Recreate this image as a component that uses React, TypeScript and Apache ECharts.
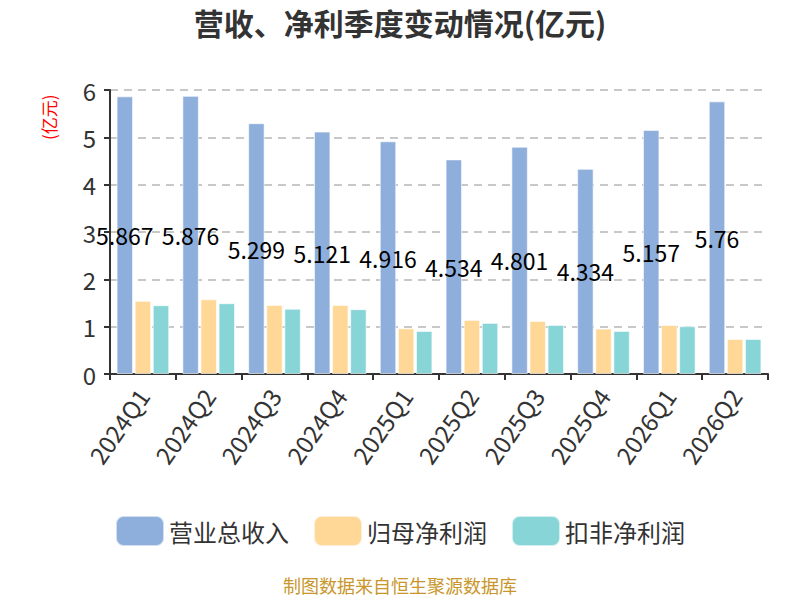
import React, { useEffect, useRef } from "react";
import * as echarts from "echarts";

const categories = ["2024Q1", "2024Q2", "2024Q3", "2024Q4", "2025Q1", "2025Q2", "2025Q3", "2025Q4", "2026Q1", "2026Q2"];
const revenue = [5.867, 5.876, 5.299, 5.121, 4.916, 4.534, 4.801, 4.334, 5.157, 5.76];
const netProfit = [1.545, 1.58, 1.46, 1.46, 0.966, 1.143, 1.12, 0.96, 1.037, 0.74];
const deductedProfit = [1.453, 1.496, 1.38, 1.37, 0.91, 1.08, 1.037, 0.91, 1.01, 0.74];
const seriesNames = ["营业总收入", "归母净利润", "扣非净利润"];
const colors = ["#8eaedb", "#ffd898", "#88d5d8"];

const FONT = "'Noto Sans CJK SC', 'Noto Sans', sans-serif";

export default function App() {
  const ref = useRef<HTMLDivElement>(null);
  useEffect(() => {
    document.body.style.margin = "0";
    const chart = echarts.init(ref.current!, null, { renderer: "svg" });
    const mk = (name: string, data: number[], color: string, label: boolean) => ({
      name,
      type: "bar",
      data,
      barGap: "10%",
      barCategoryGap: "20%",
      itemStyle: { color, borderColor: "rgba(255,255,255,0.6)", borderWidth: 1 },
      label: label
        ? { show: true, position: "inside", color: "#000", fontSize: 23, fontFamily: FONT }
        : { show: false },
    });
    chart.setOption({
      animation: false,
      textStyle: { fontFamily: FONT },
      title: {
        text: "营收、净利季度变动情况(亿元)",
        left: "center",
        top: 2,
        textStyle: { fontSize: 30, fontWeight: "bold", color: "#333", fontFamily: FONT },
      },
      grid: { left: 110, right: 32, top: 90, bottom: 226 },
      legend: {
        bottom: 48,
        left: "center",
        itemWidth: 48,
        itemHeight: 30,
        itemGap: 24,
        icon: "roundRect",
        textStyle: { fontSize: 24, color: "#333", fontFamily: FONT },
        data: seriesNames,
      },
      graphic: [
        {
          type: "text",
          x: 40,
          y: 140,
          rotation: Math.PI / 2,
          style: { text: "(亿元)", fill: "#ff0000", fontSize: 17, fontFamily: FONT },
        },
        {
          type: "text",
          left: "center",
          top: 576,
          style: { text: "制图数据来自恒生聚源数据库", fill: "#c8962a", fontSize: 18, fontFamily: FONT },
        },
      ],
      xAxis: {
        type: "category",
        data: categories,
        axisLine: { lineStyle: { color: "#333", width: 2 } },
        axisTick: { show: true, length: 6, lineStyle: { color: "#333", width: 2 } },
        axisLabel: { rotate: 55, fontSize: 24, color: "#333", margin: 17, fontFamily: FONT },
      },
      yAxis: {
        type: "value",
        min: 0,
        max: 6,
        interval: 1,
        axisLine: { show: true, lineStyle: { color: "#333", width: 2 } },
        axisTick: { show: true, length: 6, lineStyle: { color: "#333", width: 2 } },
        axisLabel: { fontSize: 24, color: "#333", margin: 14, fontFamily: FONT },
        splitLine: { lineStyle: { color: "#c8c8c8", type: [8, 6], width: 2 } },
      },
      series: [
        mk(seriesNames[0], revenue, colors[0], true),
        mk(seriesNames[1], netProfit, colors[1], false),
        mk(seriesNames[2], deductedProfit, colors[2], false),
      ],
    });
    return () => chart.dispose();
  }, []);
  return <div ref={ref} style={{ width: 800, height: 600 }} />;
}
